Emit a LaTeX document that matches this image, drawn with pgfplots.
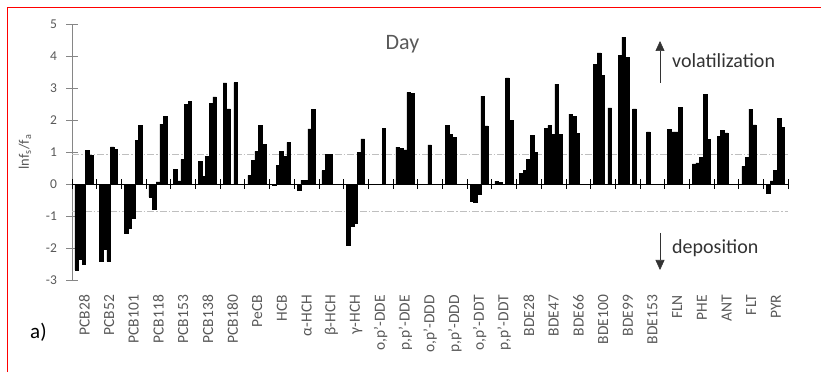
\documentclass[border=0pt]{standalone}
\usepackage{pgfplots}
\pgfplotsset{compat=1.18}
\usepackage{pgfplotstable}
\usepackage{fontspec}
\setmainfont{Carlito}
\usetikzlibrary{arrows.meta}
\definecolor{tickgray}{HTML}{595959}
\definecolor{axgray}{HTML}{868686}
\definecolor{refgray}{HTML}{BFBFBF}

\pgfplotstableread{
idx a b c d e
0 -2.68 -2.36 -2.52 1.06 0.90
1 -2.42 -2.05 -2.42 1.16 1.09
2 -1.53 -1.39 -1.08 1.37 1.84
3 -0.40 -0.78 0.07 1.87 2.12
4 0.45 0.10 0.77 2.48 2.58
5 0.70 0.25 0.86 2.51 2.72
6 3.16 2.35 0 3.17 0
7 0.27 0.75 1.02 1.83 1.25
8 -0.05 0.58 1.02 0.87 1.30
9 -0.19 0.12 0.12 1.72 2.33
10 0.42 0.92 0.92 0 0
11 -1.90 -1.33 -1.22 1.00 1.41
12 0 0 0 1.75 0
13 1.15 1.11 1.07 2.86 2.84
14 0 0 1.22 0 0
15 1.84 1.55 1.46 0 0
16 -0.54 -0.56 -0.31 2.75 1.82
17 0.08 0.06 0 3.32 2.00
18 0.34 0.42 0.76 1.52 1.00
19 1.73 1.83 1.54 3.12 1.56
20 2.18 2.12 1.58 0 0
21 3.73 4.10 3.40 0 2.38
22 4.02 4.59 3.95 0 2.35
23 0 1.63 0 0 0
24 1.70 1.63 1.63 2.40 0
25 0.63 0.66 0.83 2.80 1.40
26 1.50 1.67 1.60 0 0
27 0.55 0.84 2.34 1.85 0
28 -0.30 0.10 0.43 2.04 1.78
}\data

\pgfplotsset{
  mybar/.style={ybar, bar width=0.1457, bar shift=0pt, fill=black, draw=black, line width=0.5pt},
  geom/.style={at={(72pt,92pt)}, anchor=south west, scale only axis, width=716.3pt, height=256pt,
    xmin=-0.5, xmax=28.5, ymin=-3, ymax=5},
}

\begin{document}
\begin{tikzpicture}
\useasboundingbox (0pt,0pt) rectangle (821pt,372pt);
\fill[white] (0pt,0pt) rectangle (821pt,372pt);
\draw[red, line width=1.2pt] (7.3pt,0pt) -- (7.3pt,364.7pt) -- (821pt,364.7pt);

\begin{axis}[geom,
  clip=false,
  axis x line*=bottom, axis y line*=left,
  x axis line style={draw=none},
  y axis line style={axgray, line width=0.7pt, -},
  xtick={0,...,28},
  xticklabels={PCB28,PCB52,PCB101,PCB118,PCB153,PCB138,PCB180,PeCB,HCB,α-HCH,β-HCH,γ-HCH,{o,p'-DDE},{p,p'-DDE},{o,p'-DDD},{p,p'-DDD},{o,p'-DDT},{p,p'-DDT},BDE28,BDE47,BDE66,BDE100,BDE99,BDE153,FLN,PHE,ANT,FLT,PYR},
  x tick style={draw=none},
  xticklabel style={rotate=90, anchor=east, font=\fontsize{15.5}{15.5}\selectfont, text=tickgray},
  xticklabel shift=6pt,
  ytick={-3,...,5},
  yticklabels={-3,-2,-1,0,1,2,3,4,5},
  y tick style={axgray, line width=0.7pt},
  tick align=center,
  major tick length=11pt,
  yticklabel style={font=\fontsize{13.5}{13.5}\selectfont, text=tickgray},
  yticklabel shift=6pt,
]
\addplot[refgray, dash pattern=on 7pt off 2pt on 1.5pt off 2pt, line width=0.8pt] coordinates {(-0.5,0.91) (28.5,0.91)};
\addplot[refgray, dash pattern=on 7pt off 2pt on 1.5pt off 2pt, line width=0.8pt] coordinates {(-0.5,-0.86) (28.5,-0.86)};
\addplot[mybar] table[x expr=\thisrow{idx}-0.311, y=a] {\data};
\addplot[mybar] table[x expr=\thisrow{idx}-0.1653, y=b] {\data};
\addplot[mybar] table[x expr=\thisrow{idx}-0.0196, y=c] {\data};
\addplot[mybar] table[x expr=\thisrow{idx}+0.1261, y=d] {\data};
\addplot[mybar] table[x expr=\thisrow{idx}+0.2718, y=e] {\data};
\end{axis}

\begin{axis}[geom,
  axis x line=middle, axis y line=none,
  x axis line style={black, line width=0.9pt, -},
  every inner x axis line/.append style={-},
  xtick={-0.5,0.5,...,28.5},
  xticklabels={},
  ytick=\empty,
  tick align=center,
  major tick length=10pt,
  x tick style={black, line width=0.9pt},
]
\addplot[draw=none] coordinates {(0,0)};
\end{axis}

\node[anchor=base, text=tickgray, font=\fontsize{22}{22}\selectfont] at (402.5pt,322pt) {Day};
\node[anchor=base west, inner sep=0pt, text=black!80, font=\fontsize{20}{20}\selectfont] at (672pt,304pt) {volatilization};
\node[anchor=base west, inner sep=0pt, text=black!80, font=\fontsize{20}{20}\selectfont] at (672pt,118pt) {deposition};
\draw[-{Triangle[width=9pt,length=10pt]}, line width=0.6pt, black!80] (660pt,289pt) -- (660pt,331pt);
\draw[-{Triangle[width=9pt,length=10pt]}, line width=0.6pt, black!80] (660pt,139pt) -- (660pt,102pt);
\node[anchor=base west, inner sep=0pt, font=\fontsize{21}{21}\selectfont] at (30pt,34pt) {a)};
\node[rotate=90, text=tickgray, font=\fontsize{14.5}{14.5}\selectfont] at (25pt,220pt) {lnf\textsubscript{s}/f\textsubscript{a}};
\end{tikzpicture}
\end{document}
